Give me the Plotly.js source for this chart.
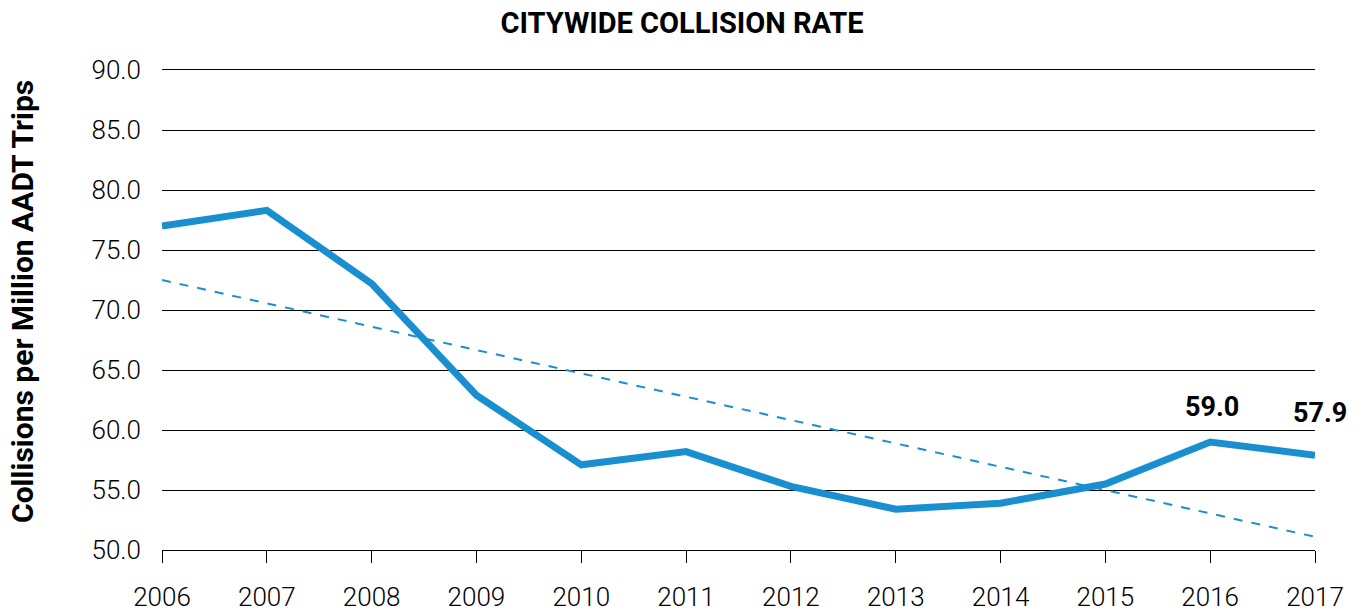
<!DOCTYPE html>
<html><head><meta charset="utf-8">
<script src="https://cdn.plot.ly/plotly-3.0.1.min.js"></script>
<style>body{margin:0;background:#fff}#c{width:1364px;height:612px}</style>
</head><body><div id="c"></div>
<script>
const years = [2006,2007,2008,2009,2010,2011,2012,2013,2014,2015,2016,2017];
const rates = [77.0,78.3,72.2,62.9,57.1,58.2,55.3,53.4,53.9,55.5,59.0,57.9];
const trendYears = [2006,2017];
const trendValues = [72.5,51.1];
const labelYears = [2016,2017];
const labelValues = [59.0,57.9];
const yTicks = [50,55,60,65,70,75,80,85,90];

const blue = '#1a8fd0';
const font = 'Roboto, "DejaVu Sans", sans-serif';

const traces = [
  {x: years, y: rates, mode:'lines', line:{color:blue, width:7}, hoverinfo:'skip'},
  {x: trendYears, y: trendValues, mode:'lines', line:{color:blue, width:2, dash:'dash'}, hoverinfo:'skip'}
];
const annotations = labelYears.map((yr,i)=>({
  x: yr, y: labelValues[i], text: '<b>'+labelValues[i].toFixed(1)+'</b>',
  showarrow:false, yshift: i===0?35:42, xshift: i===0?2:5,
  font:{family:font, size:27, color:'#000'}
}));
annotations.push({
  xref:'paper', yref:'paper', x:(22-162)/1153, y:(550-302)/480, textangle:-90,
  text:'<b>Collisions per Million AADT Trips</b>', showarrow:false,
  xanchor:'center', yanchor:'middle', font:{family:font, size:30, color:'#000'}
});
const layout = {
  width:1364, height:612,
  margin:{l:162, r:49, t:70, b:62},
  paper_bgcolor:'#fff', plot_bgcolor:'#fff',
  showlegend:false,
  title:{text:'<b>CITYWIDE COLLISION RATE</b>', x:0.5, xanchor:'center', y:0.962, yanchor:'middle', font:{family:font, size:29, color:'#000'}},
  xaxis:{range:[2006,2017], tickvals:years, ticktext:years.map(String), showgrid:false, zeroline:false,
    showline:true, mirror:true, linecolor:'#000', linewidth:1, ticks:'outside', ticklen:12, tickcolor:'#000', tickwidth:1,
    tickfont:{family:font, size:26, color:'#000', weight:300}, ticklabelstandoff:12},
  yaxis:{range:[50,90], tickvals:yTicks, ticktext:yTicks.map(v=>v.toFixed(1)), showgrid:true, gridcolor:'#000', gridwidth:1,
    zeroline:false, showline:false, ticks:'', tickfont:{family:font, size:26, color:'#000', weight:300}, ticklabelstandoff:20},
  annotations: annotations
};
Plotly.newPlot('c', traces, layout, {staticPlot:true, displayModeBar:false});
</script></body></html>
